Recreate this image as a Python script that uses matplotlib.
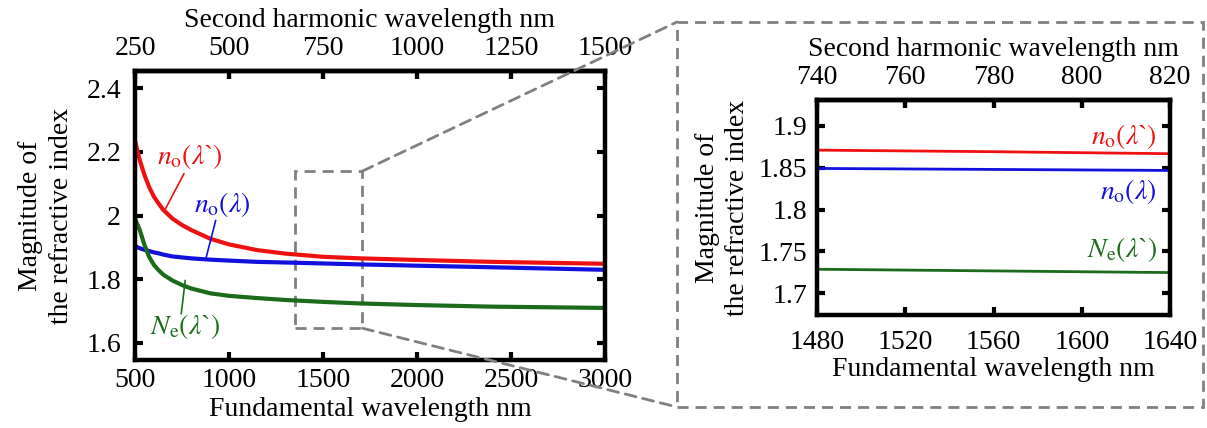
import matplotlib
matplotlib.use("Agg")
import matplotlib.pyplot as plt
from matplotlib.patches import Rectangle, ConnectionPatch

plt.rcParams['font.family'] = ['Liberation Serif', 'DejaVu Serif']
plt.rcParams['mathtext.fontset'] = 'stix'
plt.rcParams['font.size'] = 20

# 基本波長 (nm) と屈折率
lam = [500, 525, 550, 575, 600, 625, 650, 700, 750, 800, 900, 1000,
       1150, 1300, 1500, 1700, 2000, 2400, 3000]
no_sh = [2.235, 2.175, 2.128, 2.090, 2.060, 2.038, 2.018, 1.990, 1.970, 1.954, 1.927, 1.909,
         1.891, 1.880, 1.870, 1.865, 1.860, 1.854, 1.848]
no_fund = [1.903, 1.897, 1.892, 1.888, 1.884, 1.881, 1.877, 1.871, 1.868, 1.865, 1.861, 1.858,
           1.854, 1.852, 1.849, 1.846, 1.842, 1.837, 1.829]
ne_sh = [1.990, 1.955, 1.908, 1.870, 1.845, 1.828, 1.814, 1.795, 1.781, 1.770, 1.755, 1.747,
         1.740, 1.734, 1.728, 1.723, 1.718, 1.713, 1.709]

# 拡大図 (1480-1640 nm)
lam_zoom = [1480, 1560, 1640]
no_sh_zoom = [1.8711, 1.8692, 1.8668]
no_fund_zoom = [1.8492, 1.8480, 1.8468]
ne_sh_zoom = [1.7287, 1.7267, 1.7247]

lab_no_sh = r'$n_{\mathrm{o}}(\lambda$`$)$'
lab_no_fund = r'$n_{\mathrm{o}}(\lambda)$'
lab_ne_sh = r'$N_{\mathrm{e}}(\lambda$`$)$'

RED = '#ee1111'
BLUE = '#1111dd'
GREEN = '#1b6b1b'
GRAY = '#808080'

W, H = 1207, 428
fig = plt.figure(figsize=(W / 100, H / 100), dpi=100)


def px_axes(l, t, r, b):
    return fig.add_axes([l / W, 1 - b / H, (r - l) / W, (b - t) / H])


def style(ax, sec, ypad, bpad):
    for s in ax.spines.values():
        s.set_linewidth(3.2)
    ax.tick_params(direction='in', length=6, width=3, top=True, right=True)
    ax.tick_params(axis='y', pad=ypad)
    ax.tick_params(axis='x', pad=bpad)
    sec.tick_params(direction='in', length=6, width=3, pad=7)
    sec.spines['top'].set_linewidth(3.2)
    sec.set_xlabel('Second harmonic wavelength nm', labelpad=7)


# 左のグラフ
ax = px_axes(135, 71, 605, 360)
ax.plot(lam, no_sh, color=RED, lw=3)
ax.plot(lam, no_fund, color=BLUE, lw=3)
ax.plot(lam, ne_sh, color=GREEN, lw=3)
ax.set_xlim(500, 3000)
ax.set_ylim(1.545, 2.455)
ax.set_xticks([500, 1000, 1500, 2000, 2500, 3000])
ax.set_yticks([1.6, 1.8, 2.0, 2.2, 2.4])
ax.set_yticklabels(['1.6', '1.8', '2', '2.2', '2.4'])
ax.set_xlabel('Fundamental wavelength nm', labelpad=3)
ax.set_ylabel('Magnitude of\nthe refractive index', linespacing=1.3, labelpad=9)
sec = ax.secondary_xaxis('top', functions=(lambda x: x / 2, lambda x: x * 2))
sec.set_xticks([250, 500, 750, 1000, 1250, 1500])
style(ax, sec, 10, 6)

ax.text(791, 2.186, lab_no_sh, color=RED, ha='center', va='center')
ax.plot([760, 662], [2.131, 2.021], color=RED, lw=1.2)
ax.text(965, 2.035, lab_no_fund, color=BLUE, ha='center', va='center')
ax.plot([929, 879], [1.984, 1.869], color=BLUE, lw=1.2)
ax.text(767, 1.65, lab_ne_sh, color=GREEN, ha='center', va='center')
ax.plot([767, 746], [1.795, 1.691], color=GREEN, lw=1.2)

ax.add_patch(Rectangle((1350, 1.645), 360, 0.495, fill=False, ec=GRAY,
                       lw=2, ls=(0, (4, 2.5))))

# 右の拡大図
ax2 = px_axes(817, 100, 1170, 315)
ax2.plot(lam_zoom, no_sh_zoom, color=RED, lw=2)
ax2.plot(lam_zoom, no_fund_zoom, color=BLUE, lw=2)
ax2.plot(lam_zoom, ne_sh_zoom, color=GREEN, lw=2)
ax2.set_xlim(1480, 1640)
ax2.set_ylim(1.674, 1.931)
ax2.set_xticks([1480, 1520, 1560, 1600, 1640])
ax2.set_yticks([1.7, 1.75, 1.8, 1.85, 1.9])
ax2.set_yticklabels(['1.7', '1.75', '1.8', '1.85', '1.9'])
ax2.set_xlabel('Fundamental wavelength nm', labelpad=1)
ax2.set_ylabel('Magnitude of\nthe refractive index', linespacing=1.3, labelpad=6)
sec2 = ax2.secondary_xaxis('top', functions=(lambda x: x / 2, lambda x: x * 2))
sec2.set_xticks([740, 760, 780, 800, 820])
style(ax2, sec2, 7, 11)

ax2.text(1634, 1.8876, lab_no_sh, color=RED, ha='right', va='center')
ax2.text(1634, 1.8216, lab_no_fund, color=BLUE, ha='right', va='center')
ax2.text(1634, 1.752, lab_ne_sh, color=GREEN, ha='right', va='center')

# 破線の枠と接続線
bx0, by0 = 677 / W, 1 - 407 / H
bx1, by1 = 1203 / W, 1 - 22 / H
fig.add_artist(Rectangle((bx0, by0), bx1 - bx0, by1 - by0, transform=fig.transFigure,
                         fill=False, ec=GRAY, lw=2, ls=(0, (4, 2.5))))
for yd, yf in [(2.14, by1), (1.645, by0)]:
    fig.add_artist(ConnectionPatch((1710, yd), (bx0, yf), coordsA=ax.transData,
                                   coordsB=fig.transFigure, color=GRAY, lw=2,
                                   ls=(0, (4, 2.5))))

fig.savefig('out.png', dpi=100)
